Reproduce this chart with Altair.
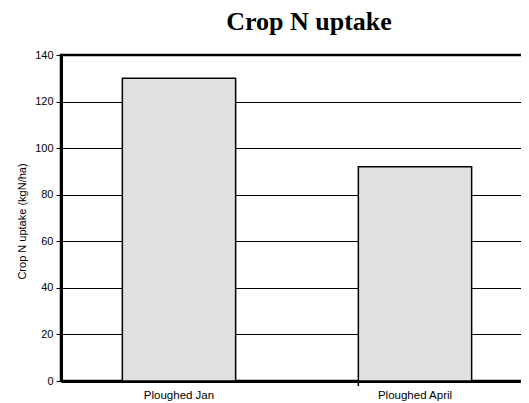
import altair as alt
import pandas as pd

categories = ["Ploughed Jan", "Ploughed April"]
uptake = [130, 92]
y_ticks = [0, 20, 40, 60, 80, 100, 120, 140]
divider_at = ["Ploughed April"]

df = pd.DataFrame({"treatment": categories, "uptake": uptake})
div = pd.DataFrame({"treatment": divider_at})

W, H = 472, 326
xscale = alt.Scale(domain=categories, paddingInner=0.52, paddingOuter=0.26)
yscale = alt.Scale(domain=[0, 140], nice=False)

bars = alt.Chart(df).mark_bar(fill="#e0e0e0", stroke="black", strokeWidth=1.5).encode(
    x=alt.X("treatment:N", scale=xscale, sort=categories,
            axis=alt.Axis(title=None, labelAngle=0, ticks=False, domain=True,
                          domainWidth=3, domainColor="black",
                          labelFont="Liberation Sans", labelFontSize=11.5,
                          labelColor="black", labelPadding=8)),
    y=alt.Y("uptake:Q", scale=yscale,
            axis=alt.Axis(values=y_ticks, title="Crop N uptake (kgN/ha)",
                          grid=True, gridColor="black", gridWidth=1, gridOpacity=1,
                          domainWidth=3, domainColor="black",
                          tickColor="black", tickSize=5, tickWidth=1,
                          labelFont="Liberation Sans", labelFontSize=11,
                          labelColor="black", labelPadding=3,
                          titleFont="Liberation Sans", titleFontSize=11,
                          titleFontWeight="normal", titleColor="black",
                          titleX=-39, titleY=166, titleAngle=270,
                          titleAlign="center", titleBaseline="middle")),
)

divider = alt.Chart(div).mark_rule(color="black", strokeWidth=1.5).encode(
    x=alt.X("treatment:N", scale=xscale, bandPosition=0),
    y=alt.value(H),
    y2=alt.value(H + 5),
)

chart = alt.layer(bars, divider).properties(
    width=W, height=H,
    title=alt.TitleParams("Crop N uptake", font="Liberation Serif", fontSize=26,
                          fontWeight="bold", anchor="middle",
                          dx=12, offset=14, color="black"),
    autosize=alt.AutoSizeParams(type="none"),
    padding={"left": 53, "top": 47, "right": -12, "bottom": 22},
).configure_view(stroke="black", strokeWidth=2.5)

chart.save("out.html", embed_options={"renderer": "svg", "actions": False})
